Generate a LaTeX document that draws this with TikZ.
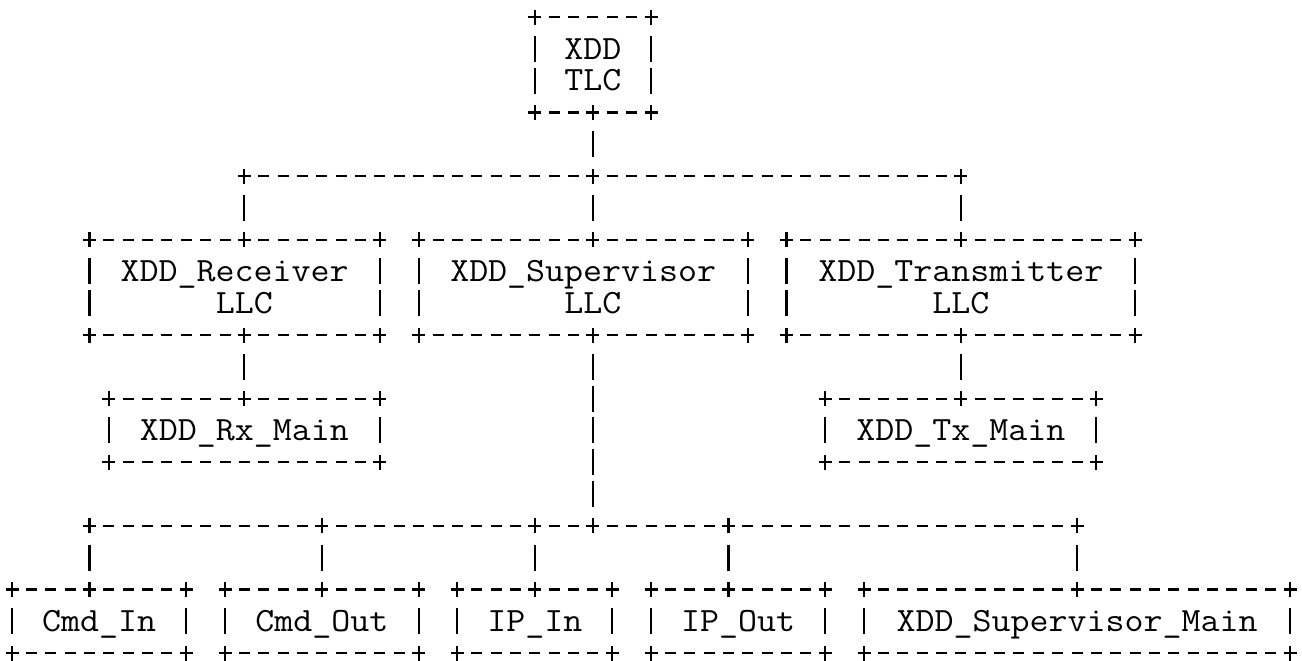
\documentclass[tikz,border=0pt]{standalone}
\usepackage{graphicx}
\newcommand{\GX}[1]{12+19.364*(#1)}
\newcommand{\GY}[1]{17+31.8*((#1)-1)}
\newcommand{\lbltxt}[1]{\scalebox{1.085}[1]{#1}}
\tikzset{
  ink/.style={line width=1.1pt, draw=black},
  hd/.style={ink, dash pattern=on 5.5pt off 4.182pt, shorten <=6.932pt, shorten >=6.932pt},
  vd/.style={ink, dash pattern=on 13pt off 2.9pt, shorten <=9.4pt, shorten >=9.4pt},
  boxn/.style={inner sep=0pt, outer sep=0pt, draw=none},
  lbl/.style={inner sep=0pt, outer sep=0pt, font=\fontsize{17pt}{15.9pt}\selectfont\ttfamily, text height=10.39pt, text depth=0pt},
  pl/.pic={\draw[ink] (-3.25pt,0pt) -- (3.25pt,0pt) (0pt,-3.75pt) -- (0pt,3.75pt);}
}
% name, first col, last col, top line, bottom line
\newcommand{\abox}[5]{%
  \node[boxn, minimum width={19.364*((#3)-(#2))*0.5pt}, minimum height={31.8*((#5)-(#4))*0.5pt}]
    (#1) at ({\GX{((#2)+(#3))/2}},{\GY{((#4)+(#5))/2}}) {};
  \draw[hd] (#1.north west) -- (#1.north east);
  \draw[hd] (#1.south west) -- (#1.south east);
  \draw[vd] (#1.north west) -- (#1.south west);
  \draw[vd] (#1.north east) -- (#1.south east);
  \pic at (#1.north west) {pl};
  \pic at (#1.north east) {pl};
  \pic at (#1.south west) {pl};
  \pic at (#1.south east) {pl};
}
\begin{document}
\begin{tikzpicture}[x=0.5pt, y=-0.5pt]
\fill[white] (0,0) rectangle (1302,660);
\useasboundingbox (0,0) rectangle (1302,660);

% boxes
\abox{tlc}{27}{33}{1}{4}
\abox{rxllc}{4}{19}{8}{11}
\abox{supllc}{21}{38}{8}{11}
\abox{txllc}{40}{58}{8}{11}
\abox{rxmain}{5}{19}{13}{15}
\abox{txmain}{42}{56}{13}{15}
\abox{cmdin}{0}{9}{19}{21}
\abox{cmdout}{11}{21}{19}{21}
\abox{ipin}{23}{31}{19}{21}
\abox{ipout}{33}{42}{19}{21}
\abox{supmain}{44}{66}{19}{21}

% labels
\node[lbl] (t-xdd) at ({\GX{30}},{\GY{2}}) {\lbltxt{XDD}};
\node[lbl] (t-tlc) at ({\GX{30}},{\GY{3}}) {\lbltxt{TLC}};
\node[lbl] (t-rx1) at ({\GX{11.5}},{\GY{9}}) {\lbltxt{XDD\_Receiver}};
\node[lbl] (t-rx2) at ({\GX{12}},{\GY{10}}) {\lbltxt{LLC}};
\node[lbl] (t-sp1) at ({\GX{29.5}},{\GY{9}}) {\lbltxt{XDD\_Supervisor}};
\node[lbl] (t-sp2) at ({\GX{30}},{\GY{10}}) {\lbltxt{LLC}};
\node[lbl] (t-tx1) at ({\GX{49}},{\GY{9}}) {\lbltxt{XDD\_Transmitter}};
\node[lbl] (t-tx2) at ({\GX{49}},{\GY{10}}) {\lbltxt{LLC}};
\node[lbl] (t-rxm) at ({\GX{12}},{\GY{14}}) {\lbltxt{XDD\_Rx\_Main}};
\node[lbl] (t-txm) at ({\GX{49}},{\GY{14}}) {\lbltxt{XDD\_Tx\_Main}};
\node[lbl] (t-ci) at ({\GX{4.5}},{\GY{20}}) {\lbltxt{Cmd\_In}};
\node[lbl] (t-co) at ({\GX{16}},{\GY{20}}) {\lbltxt{Cmd\_Out}};
\node[lbl] (t-ii) at ({\GX{27}},{\GY{20}}) {\lbltxt{IP\_In}};
\node[lbl] (t-io) at ({\GX{37.5}},{\GY{20}}) {\lbltxt{IP\_Out}};
\node[lbl] (t-sm) at ({\GX{55}},{\GY{20}}) {\lbltxt{XDD\_Supervisor\_Main}};

% bus junctions
\coordinate (b1a) at ({\GX{12}},{\GY{6}});
\coordinate (b1m) at ({\GX{30}},{\GY{6}});
\coordinate (b1b) at ({\GX{49}},{\GY{6}});
\coordinate (b2a) at ({\GX{4}},{\GY{17}});
\coordinate (b2b) at ({\GX{16}},{\GY{17}});
\coordinate (b2c) at ({\GX{27}},{\GY{17}});
\coordinate (b2m) at ({\GX{30}},{\GY{17}});
\coordinate (b2d) at ({\GX{37}},{\GY{17}});
\coordinate (b2e) at ({\GX{55}},{\GY{17}});

% buses
\draw[hd] (b1a) -- (b1b);
\draw[hd] (b2a) -- (b2e);
\foreach \j in {b1a,b1m,b1b,b2a,b2b,b2c,b2m,b2d,b2e} {\pic at (\j) {pl};}

% connectors
\draw[vd] (tlc.south) -- (b1m);
\pic at (tlc.south) {pl};
\draw[vd] (b1a) -- (b1a |- rxllc.north);
\draw[vd] (b1m) -- (b1m |- supllc.north);
\draw[vd] (b1b) -- (txllc.north);
\pic at (b1a |- rxllc.north) {pl};
\pic at (b1m |- supllc.north) {pl};
\pic at (txllc.north) {pl};

\draw[vd] (rxmain.north |- rxllc.south) -- (rxmain.north);
\pic at (rxmain.north |- rxllc.south) {pl};
\pic at (rxmain.north) {pl};
\draw[vd] (txllc.south) -- (txmain.north);
\pic at (txllc.south) {pl};
\pic at (txmain.north) {pl};

\draw[vd] (b1m |- supllc.south) -- (b2m);
\pic at (b1m |- supllc.south) {pl};

\draw[vd] (b2a) -- (b2a |- cmdin.north);
\draw[vd] (b2b) -- (cmdout.north);
\draw[vd] (b2c) -- (ipin.north);
\draw[vd] (b2d) -- (b2d |- ipout.north);
\draw[vd] (b2e) -- (supmain.north);
\pic at (b2a |- cmdin.north) {pl};
\pic at (cmdout.north) {pl};
\pic at (ipin.north) {pl};
\pic at (b2d |- ipout.north) {pl};
\pic at (supmain.north) {pl};
\end{tikzpicture}
\end{document}
